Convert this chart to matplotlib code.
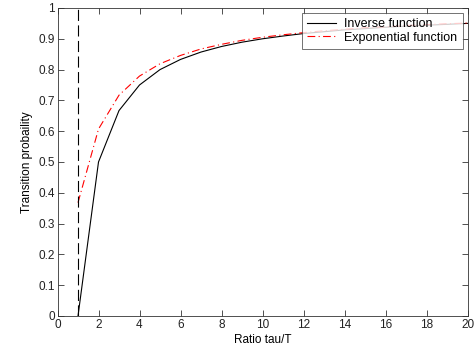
import matplotlib
matplotlib.use('Agg')
import matplotlib.pyplot as plt

plt.rcParams['font.family'] = ['Liberation Sans', 'DejaVu Sans']

# ratio tau/T
ratio = [1, 2, 3, 4, 5, 6, 7, 8, 9, 10, 11, 12, 13, 14, 15, 16, 17, 18, 19, 20]
# inverse function values
inverse_vals = [0.0, 0.5, 0.667, 0.75, 0.8, 0.833, 0.857, 0.875, 0.889, 0.9,
                0.909, 0.917, 0.923, 0.929, 0.933, 0.9375, 0.941, 0.944, 0.947, 0.95]
# exponential function values
expo_vals = [0.368, 0.607, 0.717, 0.779, 0.819, 0.846, 0.867, 0.882, 0.895, 0.905,
             0.913, 0.920, 0.926, 0.931, 0.936, 0.939, 0.943, 0.946, 0.949, 0.951]
xticks = [0, 2, 4, 6, 8, 10, 12, 14, 16, 18, 20]
yticks = [0, 0.1, 0.2, 0.3, 0.4, 0.5, 0.6, 0.7, 0.8, 0.9, 1]
ytick_labels = ['0', '0.1', '0.2', '0.3', '0.4', '0.5', '0.6', '0.7', '0.8', '0.9', '1']

fig = plt.figure(figsize=(4.76, 3.51), dpi=100)
ax = fig.add_axes([57.5 / 476, 1 - 316 / 351, (467.5 - 57.5) / 476, (316 - 8) / 351])

ax.plot(ratio, inverse_vals, color='black', lw=0.8, label='Inverse function')
ax.plot(ratio, expo_vals, color='red', lw=0.8, linestyle=(0, (7, 3, 1, 3)), label='Exponential function')
ax.axvline(1, color='black', lw=0.8, linestyle=(0, (10, 4)))

ax.set_xlim(0, 20)
ax.set_ylim(0, 1)
ax.set_xticks(xticks)
ax.set_xticklabels([str(t) for t in xticks])
ax.set_yticks(yticks)
ax.set_yticklabels(ytick_labels)
ax.tick_params(direction='in', top=True, right=True, labelsize=8.5, length=4, width=0.6, pad=2, colors='#333333', labelcolor='#222222')
for sp in ax.spines.values():
    sp.set_linewidth(0.6)
    sp.set_color('#333333')

ax.set_xlabel('Ratio tau/T', fontsize=8.5, labelpad=2)
ax.set_ylabel('Transition probaility', fontsize=8.5, labelpad=4)

leg = ax.legend(loc='upper right', bbox_to_anchor=(0.988, 0.984), fontsize=9, frameon=True, fancybox=False,
                edgecolor='#333333', borderpad=0.4, handlelength=2.3, handletextpad=0.7,
                labelspacing=0.15, borderaxespad=0)
leg.get_frame().set_linewidth(0.6)

plt.savefig('out.png', dpi=100)
